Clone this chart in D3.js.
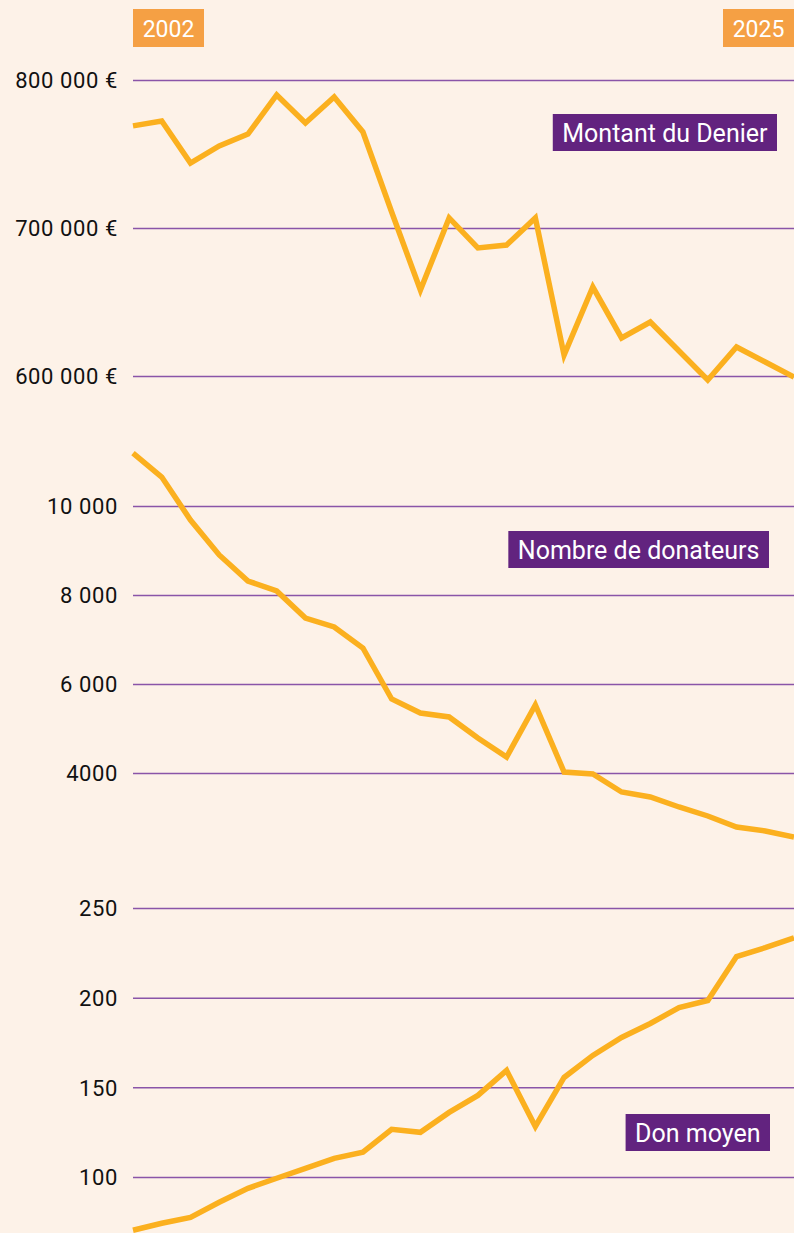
<!DOCTYPE html>
<html>
<head>
<meta charset="utf-8">
<script src="https://cdn.jsdelivr.net/npm/d3@7"></script>
<style>
  html, body { margin: 0; padding: 0; background: #fdf2e8; }
  svg { display: block; font-family: Roboto, "DejaVu Sans", sans-serif; }
  .tick line { stroke: #8a55a8; stroke-width: 1.5; }
  .tick text { fill: #111; font-size: 22px; letter-spacing: 0.6px; font-family: Roboto, sans-serif; }
  .domain { display: none; }
</style>
</head>
<body>
<div id="chart"></div>
<script>
// years on the x axis
var years = d3.range(2002, 2026);

// Montant du Denier (euros)
var montant = [769000, 772300, 743900, 755400, 763500, 789900, 770900, 788500, 764900, 710800,
  658100, 706800, 686500, 688500, 706800, 614200, 660100, 625700, 636500, 616900,
  597300, 619600, 609500, 599300];

// Nombre de donateurs
var donateurs = [11190, 10650, 9685, 8900, 8315, 8090, 7483, 7281, 6809, 5663,
  5349, 5259, 4787, 4360, 5528, 4022, 3978, 3573, 3461, 3236,
  3034, 2787, 2697, 2562];

// Don moyen (euros)
var donMoyen = [70.3, 74.2, 77.5, 85.9, 93.7, 99.3, 104.8, 110.4, 113.8, 126.6,
  124.9, 136.0, 145.5, 159.4, 128.2, 155.5, 167.8, 177.8, 185.6, 194.5,
  198.4, 222.9, 227.9, 233.4];

// tick values and labels
var montantTicks = [600000, 700000, 800000];
var montantLabels = ["600 000 €", "700 000 €", "800 000 €"];
var donateursTicks = [4000, 6000, 8000, 10000];
var donateursLabels = ["4000", "6 000", "8 000", "10 000"];
var donTicks = [100, 150, 200, 250];
var donLabels = ["100", "150", "200", "250"];

var panelNames = ["Montant du Denier", "Nombre de donateurs", "Don moyen"];

var svgWidth = 794;
var svgHeight = 1233;
var left = 133;
var right = 794;

var svg = d3.select("#chart")
  .append("svg")
  .attr("width", svgWidth)
  .attr("height", svgHeight);

var x = d3.scaleLinear()
  .domain([years[0], years[years.length - 1]])
  .range([left, right]);

// one entry per panel: data, scale range and label box placement
var panels = [
  { values: montant, ticks: montantTicks, labels: montantLabels,
    domain: [600000, 800000], range: [376, 80], boxRight: 777, boxTop: 114 },
  { values: donateurs, ticks: donateursTicks, labels: donateursLabels,
    domain: [4000, 10000], range: [773, 506], boxRight: 769, boxTop: 531 },
  { values: donMoyen, ticks: donTicks, labels: donLabels,
    domain: [100, 250], range: [1177, 908], boxRight: 770, boxTop: 1114 }
];

panels.forEach(function(p, i) {
  var y = d3.scaleLinear().domain(p.domain).range(p.range);

  // gridlines + tick labels
  var axis = d3.axisLeft(y)
    .tickValues(p.ticks)
    .tickSize(-(right - left))
    .tickPadding(15)
    .tickFormat(function(d, k) { return p.labels[k]; });

  svg.append("g")
    .attr("transform", `translate(${left}, 0)`)
    .call(axis)
    .attr("font-family", null)
    .attr("font-size", null)
    .selectAll(".tick text")
    .attr("dy", "0.36em");

  // the line
  var line = d3.line()
    .x(function(d, k) { return x(years[k]); })
    .y(function(d) { return y(d); });

  svg.append("path")
    .datum(p.values)
    .attr("d", line)
    .attr("fill", "none")
    .attr("stroke", "#fbb01f")
    .attr("stroke-width", 5.5)
    .attr("stroke-linejoin", "miter");

  // panel label box
  var g = svg.append("g");
  var t = g.append("text")
    .text(panelNames[i])
    .attr("fill", "#fff")
    .attr("font-size", 25)
    .attr("dominant-baseline", "central");
  var w = t.node().getComputedTextLength() + 19;
  g.insert("rect", "text")
    .attr("x", p.boxRight - w)
    .attr("y", p.boxTop)
    .attr("width", w)
    .attr("height", 37)
    .attr("fill", "#62237f");
  t.attr("x", p.boxRight - w + 9.5)
    .attr("y", p.boxTop + 19.5);
});

// year boxes at both ends
[years[0], years[years.length - 1]].forEach(function(yr, i) {
  var g = svg.append("g");
  var t = g.append("text")
    .text(yr)
    .attr("fill", "#fff")
    .attr("font-size", 23)
    .attr("dominant-baseline", "central");
  var w = 71;
  var bx = i === 0 ? x(yr) : x(yr) - w;
  g.insert("rect", "text")
    .attr("x", bx)
    .attr("y", 9)
    .attr("width", w)
    .attr("height", 38)
    .attr("fill", "#f5a044");
  t.attr("x", bx + w / 2)
    .attr("text-anchor", "middle")
    .attr("y", 29.5);
});
</script>
</body>
</html>
